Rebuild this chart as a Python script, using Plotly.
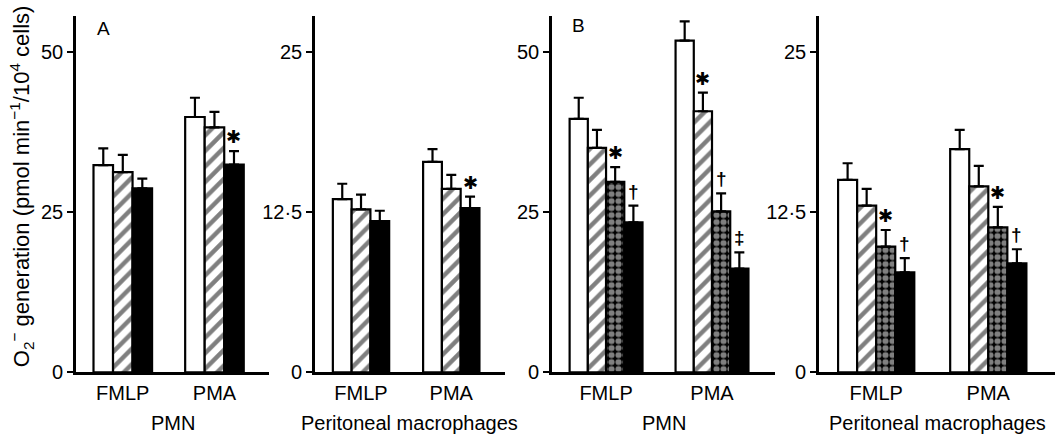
import plotly.graph_objects as go

# ---------------- data ----------------
categories = ["FMLP", "PMA"]

# Panel A, PMN
a_pmn_open = [32.3, 39.8]
a_pmn_open_err = [2.6, 3.0]
a_pmn_hatch = [31.2, 38.2]
a_pmn_hatch_err = [2.7, 2.4]
a_pmn_black = [28.7, 32.4]
a_pmn_black_err = [1.5, 2.1]

# Panel A, peritoneal macrophages
a_mac_open = [13.5, 16.4]
a_mac_open_err = [1.2, 1.0]
a_mac_hatch = [12.7, 14.3]
a_mac_hatch_err = [1.15, 1.1]
a_mac_black = [11.8, 12.8]
a_mac_black_err = [0.8, 0.9]

# Panel B, PMN
b_pmn_open = [39.5, 51.7]
b_pmn_open_err = [3.3, 3.0]
b_pmn_hatch = [35.0, 40.7]
b_pmn_hatch_err = [2.8, 2.9]
b_pmn_dot = [29.7, 25.1]
b_pmn_dot_err = [2.3, 2.8]
b_pmn_black = [23.4, 16.2]
b_pmn_black_err = [2.6, 2.5]

# Panel B, peritoneal macrophages
b_mac_open = [15.0, 17.4]
b_mac_open_err = [1.3, 1.5]
b_mac_hatch = [13.0, 14.5]
b_mac_hatch_err = [1.3, 1.6]
b_mac_dot = [9.8, 11.3]
b_mac_dot_err = [1.3, 1.6]
b_mac_black = [7.8, 8.5]
b_mac_black_err = [1.1, 1.1]

# significance marks: (category index, series index, symbol)
a_pmn_marks = [(1, 2, "✱")]
a_mac_marks = [(1, 2, "✱")]
b_pmn_marks = [(0, 2, "✱"), (0, 3, "†"), (1, 1, "✱"), (1, 2, "†"), (1, 3, "‡")]
b_mac_marks = [(0, 2, "✱"), (0, 3, "†"), (1, 2, "✱"), (1, 3, "†")]

pmn_ticks = [0, 25, 50]
pmn_ticktext = ["0", "25", "50"]
mac_ticks = [0, 12.5, 25]
mac_ticktext = ["0", "12·5", "25"]

group_labels = ["PMN", "Peritoneal macrophages", "PMN", "Peritoneal macrophages"]
panel_letters = ["A", "B"]

# ---------------- style ----------------
FONT = "Liberation Sans, Arial, Helvetica, sans-serif"
BLACK = "#000000"
styles = {
    "open": dict(color="white"),
    "hatch": dict(color="white", pattern=dict(shape="/", fgcolor=BLACK, bgcolor="white",
                                               size=11, solidity=0.4)),
    "dot": dict(color=BLACK, pattern=dict(shape=".", fgcolor="white", bgcolor=BLACK,
                                           size=7, solidity=0.6)),
    "black": dict(color=BLACK),
}

panels = [
    dict(series=[("open", a_pmn_open, a_pmn_open_err), ("hatch", a_pmn_hatch, a_pmn_hatch_err),
                 ("black", a_pmn_black, a_pmn_black_err)],
         marks=a_pmn_marks, ymax=55.6, ticks=pmn_ticks, ticktext=pmn_ticktext,
         dom=[0.0716, 0.2533], bw=0.213),
    dict(series=[("open", a_mac_open, a_mac_open_err), ("hatch", a_mac_hatch, a_mac_hatch_err),
                 ("black", a_mac_black, a_mac_black_err)],
         marks=a_mac_marks, ymax=27.8, ticks=mac_ticks, ticktext=mac_ticktext,
         dom=[0.2966, 0.4755], bw=0.208),
    dict(series=[("open", b_pmn_open, b_pmn_open_err), ("hatch", b_pmn_hatch, b_pmn_hatch_err),
                 ("dot", b_pmn_dot, b_pmn_dot_err), ("black", b_pmn_black, b_pmn_black_err)],
         marks=b_pmn_marks, ymax=55.6, ticks=pmn_ticks, ticktext=pmn_ticktext,
         dom=[0.5198, 0.7298], bw=0.172),
    dict(series=[("open", b_mac_open, b_mac_open_err), ("hatch", b_mac_hatch, b_mac_hatch_err),
                 ("dot", b_mac_dot, b_mac_dot_err), ("black", b_mac_black, b_mac_black_err)],
         marks=b_mac_marks, ymax=27.8, ticks=mac_ticks, ticktext=mac_ticktext,
         dom=[0.7712, 0.9934], bw=0.170),
]

YDOM = [0.1318, 0.9636]
XRANGE = [-0.51, 1.595]

fig = go.Figure()
annotations = []
layout = {}

for p_i, p in enumerate(panels):
    n = p_i + 1
    xa = "x" if n == 1 else f"x{n}"
    ya = "y" if n == 1 else f"y{n}"
    nser = len(p["series"])
    bw = p["bw"]
    offsets = [-nser * bw / 2 + k * bw for k in range(nser)]
    for k, (kind, vals, errs) in enumerate(p["series"]):
        fig.add_trace(go.Bar(
            x=categories, y=vals, xaxis=xa, yaxis=ya,
            width=bw, offset=offsets[k],
            marker=dict(**styles[kind], line=dict(color=BLACK, width=2.2)),
            error_y=dict(type="data", array=errs, arrayminus=[0] * len(errs),
                         symmetric=False, color=BLACK, thickness=2.2, width=5),
            showlegend=False, hoverinfo="skip",
        ))
    for (ci, si, sym) in p["marks"]:
        kind, vals, errs = p["series"][si]
        star = sym == "✱"
        annotations.append(dict(
            x=ci + offsets[si] + bw / 2, y=vals[ci] + errs[ci],
            xref=xa, yref=ya, text=sym if star else f"<b>{sym}</b>", showarrow=False,
            xanchor="center", yanchor="bottom", yshift=2,
            font=dict(family="DejaVu Sans" if star else FONT, size=18 if star else 19,
                      color=BLACK),
        ))
    xkey = "xaxis" if n == 1 else f"xaxis{n}"
    ykey = "yaxis" if n == 1 else f"yaxis{n}"
    layout[xkey] = dict(
        domain=p["dom"], anchor=ya, range=XRANGE, type="category",
        showline=True, linecolor=BLACK, linewidth=2.6, showgrid=False, zeroline=False,
        ticks="", ticklabelstandoff=1,
        tickfont=dict(family=FONT, size=20, color=BLACK), fixedrange=True,
    )
    layout[ykey] = dict(
        domain=YDOM, anchor=xa, range=[0, p["ymax"]],
        showline=True, linecolor=BLACK, linewidth=2.6, showgrid=False, zeroline=False,
        tickvals=p["ticks"], ticktext=p["ticktext"], ticks="outside", ticklen=6,
        tickwidth=2, tickcolor=BLACK, tickfont=dict(family=FONT, size=20, color=BLACK),
        fixedrange=True,
    )
    # group label under the panel
    annotations.append(dict(
        x=(p["dom"][0] + p["dom"][1]) / 2, y=0.0, xref="paper", yref="paper",
        text=group_labels[p_i], showarrow=False, xanchor="center", yanchor="bottom",
        yshift=-7, font=dict(family=FONT, size=20, color=BLACK),
    ))

# panel letters
annotations.append(dict(x=0.5, y=1.0, xref="x domain", yref="y domain", text=panel_letters[0],
                        showarrow=False, xanchor="center", yanchor="middle",
                        xshift=-69, yshift=-13, font=dict(family=FONT, size=19, color=BLACK)))
annotations.append(dict(x=0.5, y=1.0, xref="x3 domain", yref="y3 domain", text=panel_letters[1],
                        showarrow=False, xanchor="center", yanchor="middle",
                        xshift=-85, yshift=-10, font=dict(family=FONT, size=19, color=BLACK)))

# y-axis title
annotations.append(dict(
    x=21 / 1062, y=0.566, xref="paper", yref="paper", textangle=-90,
    text="O<sub>2</sub><sup>−</sup> generation (pmol min<sup>−1</sup>/10<sup>4</sup> cells)",
    showarrow=False, xanchor="center", yanchor="middle",
    font=dict(family=FONT, size=22, color=BLACK),
))

fig.update_layout(
    width=1062, height=440, margin=dict(l=0, r=0, t=0, b=0),
    paper_bgcolor="white", plot_bgcolor="white", barmode="overlay",
    annotations=annotations, **layout,
)

fig.write_html(
    "out.html",
    config={"displayModeBar": False},
    post_script="document.body.style.margin='0';document.body.style.padding='0';"
                "document.body.style.overflow='hidden';",
)
